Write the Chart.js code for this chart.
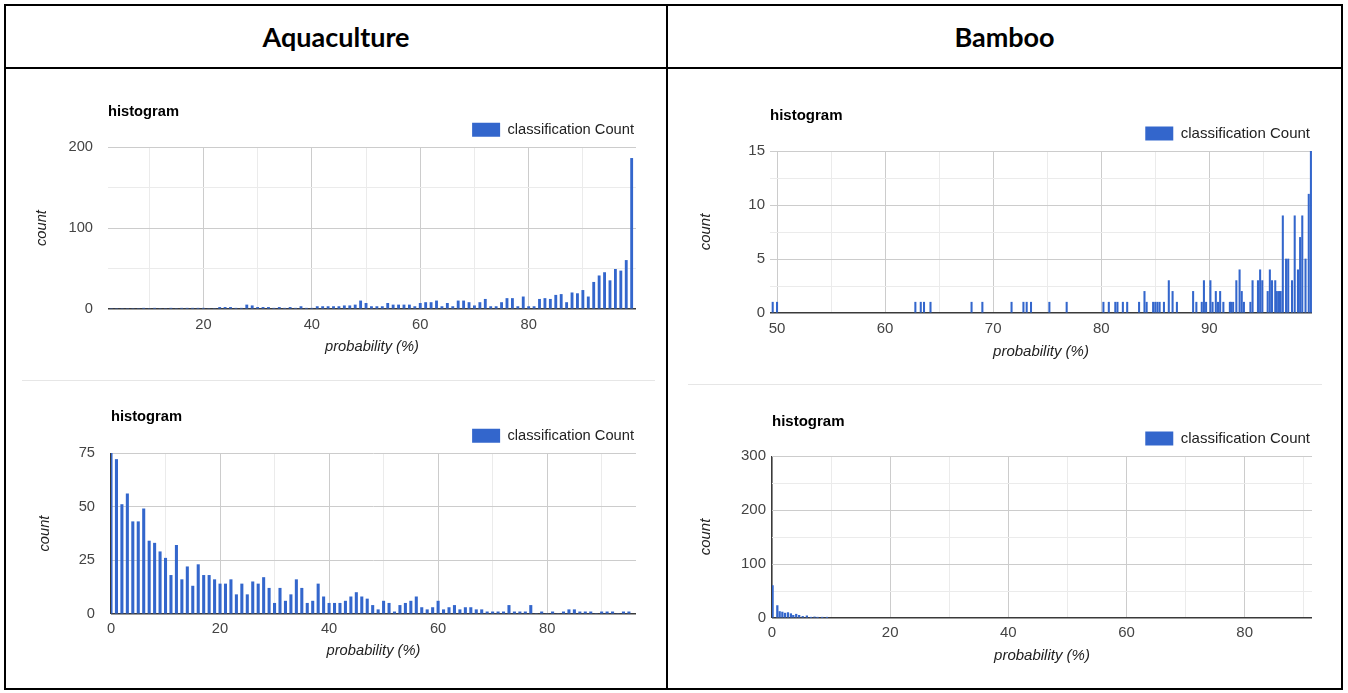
<!DOCTYPE html>
<html>
<head>
<meta charset="utf-8">
<title>Classification probability histograms</title>
<script src="https://cdn.jsdelivr.net/npm/chart.js@4.4.1/dist/chart.umd.min.js"></script>
<style>
  html, body { margin: 0; padding: 0; background: #ffffff; }
  body { width: 1348px; height: 693px; position: relative; overflow: hidden; }
  .rule { position: absolute; background: #000000; }
  .head {
    position: absolute; top: 6px; height: 61px;
    display: flex; align-items: center; justify-content: center;
    font-family: Lato, "Liberation Sans", sans-serif; font-weight: 700;
    font-size: 27px; color: #000000;
  }
  .sep { position: absolute; height: 1px; background: #e6e6e6; }
  canvas { position: absolute; }
</style>
</head>
<body>

<!-- table frame -->
<div class="rule" style="left:4px;top:4px;width:1339px;height:2px;"></div>
<div class="rule" style="left:4px;top:67px;width:1339px;height:2px;"></div>
<div class="rule" style="left:4px;top:688px;width:1339px;height:2px;"></div>
<div class="rule" style="left:4px;top:4px;width:2px;height:686px;"></div>
<div class="rule" style="left:666px;top:4px;width:2px;height:686px;"></div>
<div class="rule" style="left:1341px;top:4px;width:2px;height:686px;"></div>

<div class="head" style="left:6px;width:660px;">Aquaculture</div>
<div class="head" style="left:668px;width:673px;">Bamboo</div>

<div class="sep" style="left:22px;top:380px;width:633px;"></div>
<div class="sep" style="left:688px;top:384px;width:634px;"></div>

<canvas id="aquaTop" width="640" height="280" style="left:20px;top:92px;"></canvas>
<canvas id="aquaBottom" width="640" height="280" style="left:20px;top:395px;"></canvas>
<canvas id="bambooTop" width="650" height="280" style="left:680px;top:95px;"></canvas>
<canvas id="bambooBottom" width="650" height="280" style="left:680px;top:400px;"></canvas>

<script>
// ---- Aquaculture, upper histogram: 1-point probability bins ----
const aquaTopBins = [3, 4, 5, 6, 7, 8, 9, 10, 11, 12, 13, 14, 15, 16, 17, 18, 19, 20,
  21, 22, 23, 24, 25, 26, 27, 28, 29, 30, 31, 32, 33, 34, 35, 36, 37, 38, 39, 40,
  41, 42, 43, 44, 45, 46, 47, 48, 49, 50, 51, 52, 53, 54, 55, 56, 57, 58, 59, 60,
  61, 62, 63, 64, 65, 66, 67, 68, 69, 70, 71, 72, 73, 74, 75, 76, 77, 78, 79, 80,
  81, 82, 83, 84, 85, 86, 87, 88, 89, 90, 91, 92, 93, 94, 95, 96, 97, 98, 99];
const aquaTopCounts = [0, 0, 0, 0, 0, 0, 1, 0, 1, 0, 0, 1, 0, 1, 1, 1, 1, 1,
  0, 0, 2, 2, 2, 1, 1, 5, 4, 2, 2, 2, 1, 2, 1, 2, 1, 3, 1, 1,
  3, 3, 3, 3, 3, 4, 4, 5, 10, 7, 3, 3, 3, 7, 5, 5, 5, 5, 3, 7,
  8, 8, 10, 3, 7, 3, 10, 10, 8, 4, 8, 12, 3, 3, 8, 13, 13, 3, 15, 3,
  3, 12, 13, 12, 17, 18, 8, 20, 19, 23, 15, 33, 41, 45, 35, 49, 47, 60, 186];

// ---- Aquaculture, lower histogram ----
const aquaBottomBins = [0, 1, 2, 3, 4, 5, 6, 7, 8, 9, 10, 11, 12, 13, 14, 15, 16, 17, 18, 19,
  20, 21, 22, 23, 24, 25, 26, 27, 28, 29, 30, 31, 32, 33, 34, 35, 36, 37, 38, 39,
  40, 41, 42, 43, 44, 45, 46, 47, 48, 49, 50, 51, 52, 53, 54, 55, 56, 57, 58, 59,
  60, 61, 62, 63, 64, 65, 66, 67, 68, 69, 70, 71, 72, 73, 74, 75, 76, 77, 78, 79,
  80, 81, 82, 83, 84, 85, 86, 87, 88, 89, 90, 91, 92, 93, 94, 95];
const aquaBottomCounts = [75, 72, 51, 56, 43, 43, 49, 34, 33, 29, 26, 18, 32, 16, 22, 13, 23, 18, 18, 16,
  14, 14, 16, 9, 14, 9, 15, 14, 17, 12, 5, 12, 6, 9, 16, 12, 5, 6, 14, 8,
  5, 5, 5, 6, 8, 10, 8, 7, 4, 2, 6, 5, 1, 4, 5, 6, 8, 3, 2, 3,
  6, 2, 3, 4, 2, 3, 3, 2, 2, 1, 1, 1, 1, 4, 1, 1, 1, 4, 0, 1,
  0, 1, 0, 1, 2, 2, 1, 1, 1, 0, 1, 1, 1, 0, 1, 1];

// ---- Bamboo, upper histogram: fine bins, only non-empty ones listed ----
const bambooTopBins = [49.6, 50.0, 62.8, 63.3, 63.6, 64.2, 68.0, 69.0, 71.7, 72.8, 73.1, 73.5,
  75.2, 76.8, 80.2, 80.7, 81.3, 81.5, 82.0, 82.4, 83.5, 84.0, 84.2, 84.8, 85.0, 85.2, 85.4,
  85.8, 86.25, 86.6, 87.0, 88.5, 88.8, 89.3, 89.5, 89.7, 90.1, 90.3, 90.6, 90.8, 91.0, 91.3,
  91.9, 92.0, 92.2, 92.5, 92.8, 93.0, 93.2, 93.8, 94.0, 94.5, 94.7, 94.9, 95.4, 95.6, 95.8,
  96.1, 96.25, 96.45, 96.6, 96.8, 97.1, 97.3, 97.65, 97.9, 98.2, 98.4, 98.6, 98.9, 99.2, 99.4];
const bambooTopCounts = [1, 1, 1, 1, 1, 1, 1, 1, 1, 1, 1, 1,
  1, 1, 1, 1, 1, 1, 1, 1, 1, 2, 1, 1, 1, 1, 1,
  1, 3, 2, 1, 2, 1, 1, 3, 1, 3, 1, 2, 1, 2, 1,
  1, 1, 1, 3, 4, 2, 1, 1, 3, 3, 4, 3, 2, 4, 3,
  3, 2, 2, 2, 9, 5, 5, 3, 9, 4, 7, 9, 5, 11, 15];

// ---- Bamboo, lower histogram ----
const bambooBottomBins = [0.1, 0.9, 1.3, 1.75, 2.2, 2.7, 3.2, 3.6, 4.1, 4.6, 5.2, 5.9,
  6.6, 7.2, 7.7, 8.5, 9.3];
const bambooBottomCounts = [60, 23, 12, 11, 9, 10, 8, 5, 7, 5, 3, 4,
  1, 2, 1, 1, 1];

// ---- axis ticks ----
const aquaTopXGrid = [10, 20, 30, 40, 50, 60, 70, 80, 90];
const aquaTopXLabels = [20, 40, 60, 80];
const aquaTopYGrid = [0, 50, 100, 150, 200];
const aquaTopYLabels = [0, 100, 200];

const aquaBottomXGrid = [0, 10, 20, 30, 40, 50, 60, 70, 80, 90];
const aquaBottomXLabels = [0, 20, 40, 60, 80];
const aquaBottomYGrid = [0, 25, 50, 75];
const aquaBottomYLabels = [0, 25, 50, 75];

const bambooTopXGrid = [50, 55, 60, 65, 70, 75, 80, 85, 90, 95];
const bambooTopXLabels = [50, 60, 70, 80, 90];
const bambooTopYGrid = [0, 2.5, 5, 7.5, 10, 12.5, 15];
const bambooTopYLabels = [0, 5, 10, 15];

const bambooBottomXGrid = [0, 10, 20, 30, 40, 50, 60, 70, 80, 90];
const bambooBottomXLabels = [0, 20, 40, 60, 80];
const bambooBottomYGrid = [0, 50, 100, 150, 200, 250, 300];
const bambooBottomYLabels = [0, 100, 200, 300];

const SERIES_NAME = 'classification Count';
const BAR_BLUE = '#3366cc';
const FONT = "'Liberation Sans', Arial, sans-serif";

function pairs(xs, ys) {
  return xs.map((x, i) => ({ x: x, y: ys[i] }));
}

function onStep(v, step) {
  const r = v / step;
  return Math.abs(r - Math.round(r)) < 1e-6;
}

// grid line colours: darker every `major`, faint otherwise, dark baseline at zero
function gridStyle(major, baselineAtZero) {
  return {
    color: (ctx) => {
      const v = ctx.tick ? ctx.tick.value : NaN;
      if (baselineAtZero && v === 0) return '#3a3a3a';
      return onStep(v, major) ? '#cccccc' : '#ebebeb';
    },
    lineWidth: (ctx) => {
      const v = ctx.tick ? ctx.tick.value : NaN;
      return (baselineAtZero && v === 0) ? 1.6 : 1;
    },
    drawTicks: false
  };
}

function histogram(id, s) {
  const fs = s.fontSize;
  new Chart(document.getElementById(id), {
    type: 'bar',
    data: {
      datasets: [{
        label: SERIES_NAME,
        data: pairs(s.bins, s.counts),
        backgroundColor: BAR_BLUE,
        borderWidth: 0,
        barThickness: s.barWidth
      }]
    },
    options: {
      responsive: false,
      animation: false,
      devicePixelRatio: 1,
      layout: { padding: { top: 0, left: 0, right: s.padRight, bottom: 0 } },
      plugins: {
        tooltip: { enabled: false },
        title: {
          display: true,
          text: 'histogram',
          align: 'start',
          fullSize: false,
          color: '#000000',
          font: { family: FONT, size: fs, weight: 'bold' },
          padding: { top: s.titleTop, bottom: s.titleBottom }
        },
        legend: {
          display: true,
          position: 'top',
          align: 'end',
          fullSize: false,
          labels: {
            boxWidth: 28,
            boxHeight: 14,
            padding: 2,
            color: '#222222',
            font: { family: FONT, size: fs }
          }
        }
      },
      scales: {
        x: {
          type: 'linear',
          offset: false,
          min: s.xMin,
          max: s.xMax,
          afterBuildTicks: (sc) => { sc.ticks = s.xGrid.map((v) => ({ value: v })); },
          afterFit: (sc) => { sc.height = s.xAxisHeight; },
          grid: Object.assign(gridStyle(s.xMajor, s.xBaseline), { offset: false }),
          border: { display: false },
          ticks: {
            autoSkip: false,
            maxRotation: 0,
            padding: s.xTickPad,
            color: '#444444',
            font: { family: FONT, size: fs },
            callback: (v) => (s.xLabels.includes(v) ? String(v) : '')
          },
          title: {
            display: true,
            text: 'probability (%)',
            color: '#222222',
            font: { family: FONT, size: fs, style: 'italic' },
            padding: { top: 0, bottom: s.xTitlePad }
          }
        },
        y: {
          min: 0,
          max: s.yMax,
          afterBuildTicks: (sc) => { sc.ticks = s.yGrid.map((v) => ({ value: v })); },
          afterFit: (sc) => { sc.width = s.yAxisWidth; },
          grid: gridStyle(s.yMajor, true),
          border: { display: false },
          ticks: {
            autoSkip: false,
            padding: s.yTickPad,
            color: '#444444',
            font: { family: FONT, size: fs },
            callback: (v) => (s.yLabels.includes(v) ? String(v) : '')
          },
          title: {
            display: true,
            text: 'count',
            color: '#222222',
            font: { family: FONT, size: fs, style: 'italic' },
            padding: { top: s.yTitlePad, bottom: 0 }
          }
        }
      }
    }
  });
}

histogram('aquaTop', {
  bins: aquaTopBins, counts: aquaTopCounts, barWidth: 2.2,
  xMin: 2.4, xMax: 99.8, xGrid: aquaTopXGrid, xLabels: aquaTopXLabels, xMajor: 20, xBaseline: false,
  yMax: 200, yGrid: aquaTopYGrid, yLabels: aquaTopYLabels, yMajor: 100,
  fontSize: 14.7, padRight: 24, yAxisWidth: 88, xAxisHeight: 63,
  titleTop: 11, titleBottom: -0.3, xTickPad: 7, xTitlePad: 16, yTickPad: 15, yTitlePad: 13
});

histogram('aquaBottom', {
  bins: aquaBottomBins, counts: aquaBottomCounts, barWidth: 2.4,
  xMin: 0, xMax: 96.3, xGrid: aquaBottomXGrid, xLabels: aquaBottomXLabels, xMajor: 20, xBaseline: true,
  yMax: 75, yGrid: aquaBottomYGrid, yLabels: aquaBottomYLabels, yMajor: 25,
  fontSize: 14.7, padRight: 24, yAxisWidth: 91, xAxisHeight: 61,
  titleTop: 13, titleBottom: 0.7, xTickPad: 6, xTitlePad: 15, yTickPad: 16, yTitlePad: 16
});

histogram('bambooTop', {
  bins: bambooTopBins, counts: bambooTopCounts, barWidth: 1.4,
  xMin: 49.35, xMax: 99.5, xGrid: bambooTopXGrid, xLabels: bambooTopXLabels, xMajor: 10, xBaseline: false,
  yMax: 15, yGrid: bambooTopYGrid, yLabels: bambooTopYLabels, yMajor: 5,
  fontSize: 15, padRight: 18, yAxisWidth: 90, xAxisHeight: 62,
  titleTop: 12, titleBottom: -1, xTickPad: 7, xTitlePad: 14, yTickPad: 5, yTitlePad: 17
});

histogram('bambooBottom', {
  bins: bambooBottomBins, counts: bambooBottomCounts, barWidth: 1.6,
  xMin: 0, xMax: 91.4, xGrid: bambooBottomXGrid, xLabels: bambooBottomXLabels, xMajor: 20, xBaseline: true,
  yMax: 300, yGrid: bambooBottomYGrid, yLabels: bambooBottomYLabels, yMajor: 100,
  fontSize: 15, padRight: 18, yAxisWidth: 92, xAxisHeight: 62,
  titleTop: 13, titleBottom: -2, xTickPad: 6, xTitlePad: 15, yTickPad: 6, yTitlePad: 17
});
</script>
</body>
</html>
